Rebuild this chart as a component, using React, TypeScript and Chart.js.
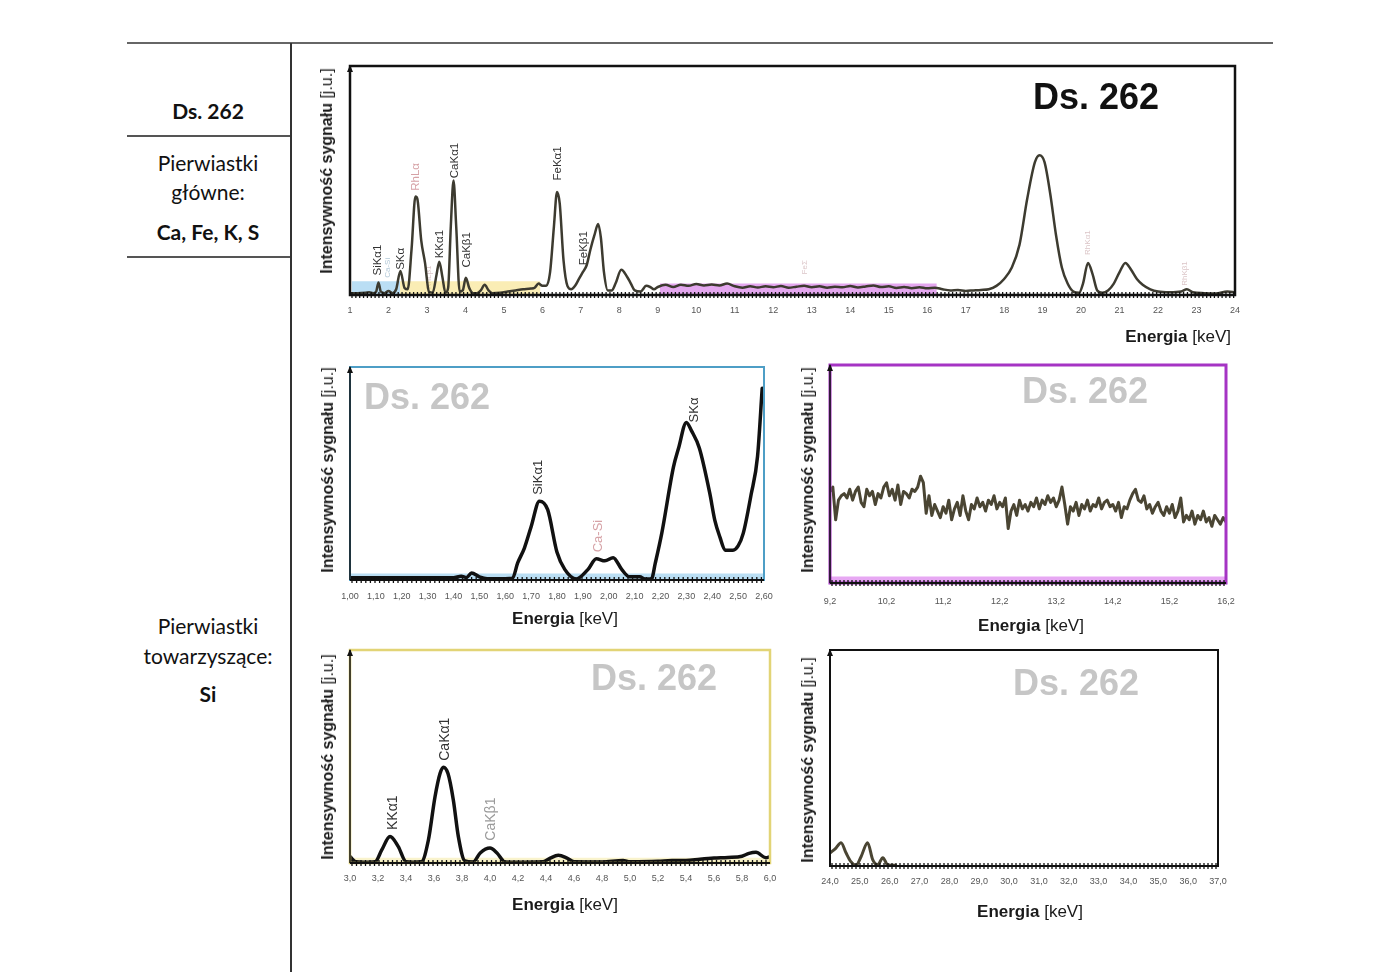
import React, { useEffect, useRef } from "react";
import { Chart, registerables } from "chart.js";

Chart.register(...registerables);

// ---------------- DATA ----------------
// Full spectrum (energy keV, intensity in % of plot height)
const TOP_POINTS: number[][] = [
  [1.0, 0.8], [1.2, 0.8], [1.4, 1.0], [1.5, 1.2], [1.6, 0.8], [1.68, 1.5], [1.74, 5.5], [1.8, 1.5],
  [1.9, 0.8], [2.0, 1.8], [2.1, 0.8], [2.2, 2.5], [2.31, 10.5], [2.42, 3], [2.5, 2.5], [2.6, 20],
  [2.7, 43], [2.75, 42], [2.85, 24], [2.95, 14], [3.05, 1.5], [3.15, 1], [3.25, 9], [3.32, 14.5],
  [3.4, 8], [3.48, 1], [3.55, 3], [3.62, 30], [3.69, 50], [3.76, 30], [3.85, 1.5], [3.93, 2],
  [4.01, 7.5], [4.1, 3], [4.2, 0.8], [4.3, 0.8], [4.4, 2], [4.5, 4.5], [4.6, 2], [4.7, 0.8],
  [4.9, 1], [5.1, 1.5], [5.3, 2], [5.5, 2.5], [5.7, 2.8], [5.8, 3.2], [5.9, 5], [6.0, 4],
  [6.1, 4], [6.2, 10], [6.3, 30], [6.38, 45], [6.45, 40], [6.55, 15], [6.65, 4], [6.75, 2.5],
  [6.85, 4], [6.95, 7], [7.05, 10], [7.15, 13], [7.25, 20], [7.35, 26], [7.45, 31], [7.52, 25],
  [7.6, 10], [7.7, 2], [7.8, 2], [7.9, 5], [8.05, 11], [8.2, 8], [8.3, 5], [8.4, 2],
  [8.55, 1.5], [8.7, 4], [8.8, 3.5], [8.9, 2.5], [9.0, 3.5],
  [9.2, 4.5], [9.4, 3.5], [9.6, 4.5], [9.8, 4], [10.0, 4.8], [10.2, 4.2], [10.4, 4.6], [10.6, 4.2],
  [10.8, 5], [11.0, 3.8], [11.2, 3.2], [11.4, 3.8], [11.6, 3.3], [11.8, 3.8], [12.0, 3.4], [12.2, 3.9],
  [12.4, 3.2], [12.6, 3.6], [12.8, 4], [13.0, 3.4], [13.2, 3.8], [13.4, 3.2], [13.6, 3.6], [13.8, 3.4],
  [14.0, 3.9], [14.2, 3.3], [14.4, 3.7], [14.6, 4.2], [14.8, 3.5], [15.0, 3.8], [15.2, 3.1], [15.4, 3.5],
  [15.6, 3], [15.8, 3.4], [16.0, 2.9], [16.2, 3.2],
  [16.4, 2.5], [16.6, 2], [16.8, 2.2], [17.0, 1.8], [17.2, 2], [17.4, 2.2], [17.6, 2.5], [17.8, 4],
  [18.0, 7], [18.2, 12], [18.4, 22], [18.6, 42], [18.8, 58], [18.92, 61], [19.05, 58], [19.2, 44],
  [19.35, 26], [19.5, 12], [19.65, 5], [19.8, 1.5], [19.95, 1], [20.05, 5], [20.18, 14], [20.3, 9],
  [20.42, 2], [20.55, 1], [20.7, 2], [20.85, 5], [21.0, 10], [21.15, 14], [21.3, 11], [21.45, 7],
  [21.6, 4.5], [21.8, 2.5], [22.0, 1.5], [22.3, 1.2], [22.6, 1.5], [22.75, 2.5], [22.9, 1.2], [23.2, 0.8],
  [23.5, 0.7], [23.8, 1.5], [24.0, 1.2],
];
const TOP_TICKS = [1, 2, 3, 4, 5, 6, 7, 8, 9, 10, 11, 12, 13, 14, 15, 16, 17, 18, 19, 20, 21, 22, 23, 24];
// [from keV, to keV, height]
const TOP_BANDS = [[1.05, 2.3, 6], [2.3, 5.95, 6], [9.05, 16.25, 5]];
// [label, keV, height of label foot, kind]
const TOP_PEAKS: [string, number, number, string][] = [
  ["SiKα1", 1.73, 8.5, "el"],
  ["Ca-Si", 1.99, 7.5, "trace"],
  ["SKα", 2.32, 11, "el"],
  ["RhLα", 2.71, 45.5, "rh"],
  ["RhLβ1", 3.05, 2.5, "rhfaint"],
  ["KKα1", 3.34, 16, "el"],
  ["CaKα1", 3.73, 51, "el"],
  ["CaKβ1", 4.04, 12, "el"],
  ["FeKα1", 6.4, 50, "el"],
  ["FeKβ1", 7.08, 13, "el"],
  ["FeΣ", 12.82, 9, "rhfaint"],
  ["RhKα1", 20.17, 17.5, "rhfaint"],
  ["RhKβ1", 22.69, 4, "rhfaint"],
];

// Zoom 1.00 – 2.60 keV
const SI_POINTS: number[][] = [
  [1.0, 1], [1.2, 1], [1.4, 1], [1.43, 1.8], [1.45, 1.2], [1.47, 3.3], [1.5, 1.5], [1.53, 0.6],
  [1.6, 0.6], [1.628, 0.8], [1.648, 8], [1.674, 15], [1.7, 25], [1.732, 37], [1.764, 33], [1.8, 13],
  [1.83, 5], [1.875, 0.5], [1.92, 5], [1.952, 10], [1.985, 9], [2.017, 10.5], [2.05, 5], [2.08, 1.5],
  [2.12, 1.5], [2.14, 0.5], [2.165, 0.5], [2.18, 8], [2.205, 22], [2.25, 53], [2.27, 62], [2.3, 74],
  [2.32, 70], [2.35, 62], [2.39, 41], [2.41, 28], [2.43, 20], [2.45, 14], [2.48, 14], [2.5, 16],
  [2.52, 22], [2.55, 40], [2.575, 58], [2.593, 90],
];
const SI_TICKS = [1.0, 1.1, 1.2, 1.3, 1.4, 1.5, 1.6, 1.7, 1.8, 1.9, 2.0, 2.1, 2.2, 2.3, 2.4, 2.5, 2.6];
const SI_BANDS = [[1.0, 2.6, 3]];
const SI_PEAKS: [string, number, number, string][] = [
  ["SiKα1", 1.73, 40, "el"],
  ["Ca-Si", 1.96, 13, "rh"],
  ["SKα", 2.33, 74, "el"],
];

// Zoom 9.2 – 16.2 keV, sampled every 0.05 keV
const MID_START = 9.2;
const MID_STEP = 0.05;
const MID_SIGNAL = [
  42, 44, 29, 38, 40, 41, 39, 43, 38, 42,
  44, 37, 35, 43, 40, 42, 36, 41, 39, 44,
  46, 40, 43, 38, 45, 36, 42, 41, 39, 43,
  42, 44, 49, 46, 32, 40, 31, 36, 33, 30,
  35, 32, 38, 29, 34, 37, 31, 40, 33, 29,
  36, 34, 39, 35, 37, 33, 38, 36, 40, 34,
  37, 35, 39, 25, 33, 36, 31, 38, 34, 36,
  33, 37, 35, 39, 34, 38, 36, 40, 37, 39,
  35, 38, 44, 36, 27, 35, 33, 37, 31, 36,
  34, 38, 33, 36, 35, 39, 34, 37, 38, 35,
  36, 33, 37, 30, 35, 34, 38, 41, 43, 38,
  37, 40, 34, 36, 32, 35, 37, 33, 31, 35,
  32, 36, 30, 33, 39, 28, 31, 29, 33, 27,
  31, 29, 33, 28, 30, 26, 31, 29, 27, 30,
  28,
];
const MID_TICKS = [9.2, 10.2, 11.2, 12.2, 13.2, 14.2, 15.2, 16.2];
const MID_BANDS = [[9.2, 16.2, 3]];

// Zoom 3.0 – 6.0 keV
const CA_POINTS: number[][] = [
  [3.0, 3], [3.04, 0.6], [3.1, 0.4], [3.18, 0.6], [3.226, 6], [3.286, 12.4], [3.345, 7.7], [3.4, 0.6],
  [3.45, 0.4], [3.51, 0.6], [3.56, 10.8], [3.607, 31], [3.643, 42], [3.667, 45], [3.7, 42], [3.738, 29.6],
  [3.774, 12.4], [3.82, 1], [3.88, 0.5], [3.93, 4.7], [4.0, 7], [4.05, 4.7], [4.107, 0.5], [4.2, 0.4],
  [4.38, 0.6], [4.43, 2.3], [4.488, 3.6], [4.55, 2.3], [4.6, 0.6], [4.8, 0.5], [4.95, 1.2], [5.0, 0.6],
  [5.2, 0.8], [5.3, 1.2], [5.4, 1.2], [5.5, 1.8], [5.6, 2.3], [5.7, 2.6], [5.8, 3.2], [5.85, 4.5],
  [5.9, 5], [5.97, 2.5], [6.0, 3],
];
const CA_TICKS = [3.0, 3.2, 3.4, 3.6, 3.8, 4.0, 4.2, 4.4, 4.6, 4.8, 5.0, 5.2, 5.4, 5.6, 5.8, 6.0];
const CA_BANDS = [[3.0, 6.0, 2.5]];
const CA_PEAKS: [string, number, number, string][] = [
  ["KKα1", 3.31, 15.5, "el"],
  ["CaKα1", 3.68, 48, "el"],
  ["CaKβ1", 4.01, 10.5, "grey"],
];

// Zoom 24 – 37 keV
const HI_POINTS: number[][] = [
  [24.0, 6], [24.2, 8.3], [24.37, 10.8], [24.54, 6], [24.7, 2], [24.87, 0.3], [25.04, 4.3], [25.26, 10.8],
  [25.43, 3], [25.6, 0.6], [25.77, 3.8], [25.93, 0.6], [26.2, 0.3],
];
const HI_TICKS = [24, 25, 26, 27, 28, 29, 30, 31, 32, 33, 34, 35, 36, 37];

// ---------------- STYLE ----------------
const ARIAL = "'Liberation Sans', Arial, Helvetica, sans-serif";
const NARROW = "'Liberation Sans Narrow', 'Arial Narrow', 'Liberation Sans', Arial, sans-serif";
const LABEL_COLORS: Record<string, string> = {
  el: "#333333",
  rh: "#d6a2a6",
  rhfaint: "#dcc6c8",
  trace: "#b3c9d8",
  grey: "#9a9a9a",
};
const PAD = { l: 24, r: 24, t: 12 };
const XH = 32;

const decor = {
  id: "specDecor",
  beforeDatasetsDraw(chart: any, _a: any, opts: any) {
    const { ctx, scales } = chart;
    ctx.save();
    (opts.peaks || []).forEach((p: any) => {
      const x = scales.x.getPixelForValue(p[1]);
      const y = scales.y.getPixelForValue(p[2]);
      const small = p[3] === "rhfaint" || p[3] === "trace";
      ctx.save();
      ctx.translate(x, y);
      ctx.rotate(-Math.PI / 2);
      ctx.font = `${small ? Math.round(opts.labelSize * 0.7) : opts.labelSize}px ${ARIAL}`;
      ctx.fillStyle = LABEL_COLORS[p[3]];
      ctx.textAlign = "left";
      ctx.textBaseline = "middle";
      ctx.fillText(p[0], 0, 0);
      ctx.restore();
    });
    ctx.restore();
  },
  afterDatasetsDraw(chart: any, _a: any, opts: any) {
    const { ctx, chartArea: a } = chart;
    ctx.save();
    // frame
    ctx.strokeStyle = opts.frameColor;
    ctx.lineWidth = opts.frameWidth;
    ctx.strokeRect(a.left, a.top, a.right - a.left, a.bottom - a.top);
    // left axis line + arrow
    ctx.strokeStyle = "#111";
    ctx.lineWidth = 1.5;
    ctx.beginPath();
    ctx.moveTo(a.left, a.bottom);
    ctx.lineTo(a.left, a.top);
    ctx.stroke();
    ctx.fillStyle = "#111";
    ctx.beginPath();
    ctx.moveTo(a.left - 3, a.top + 6);
    ctx.lineTo(a.left, a.top - 1);
    ctx.lineTo(a.left + 3, a.top + 6);
    ctx.closePath();
    ctx.fill();
    // ruler baseline
    ctx.lineWidth = 2;
    ctx.beginPath();
    ctx.moveTo(a.left, a.bottom);
    ctx.lineTo(a.right, a.bottom);
    ctx.stroke();
    ctx.lineWidth = 1.3;
    for (let px = a.left + 2; px < a.right; px += opts.rulerGap) {
      ctx.beginPath();
      ctx.moveTo(px, a.bottom - 3);
      ctx.lineTo(px, a.bottom + 3);
      ctx.stroke();
    }
    ctx.restore();
  },
};

type SpecProps = {
  L: number; R: number; T: number; B: number;
  xMin: number; xMax: number; ticks: number[]; decimals: number; tickPad: number;
  points: number[][]; lineColor: string; lineWidth: number; smooth: boolean;
  bands: number[][]; bandColors: string[];
  peaks: [string, number, number, string][]; labelSize: number;
  frameColor: string; frameWidth: number; rulerGap: number;
};

function Spectrum(p: SpecProps) {
  const ref = useRef<HTMLCanvasElement>(null);
  useEffect(() => {
    const datasets: any[] = [
      {
        data: p.points.map((d) => ({ x: d[0], y: d[1] })),
        borderColor: p.lineColor,
        borderWidth: p.lineWidth,
        pointRadius: 0,
        fill: false,
        cubicInterpolationMode: p.smooth ? "monotone" : "default",
        tension: 0,
        borderJoinStyle: "round",
        borderCapStyle: "round",
      },
    ];
    p.bands.forEach((b, i) => {
      datasets.push({
        data: [{ x: b[0], y: b[2] }, { x: b[1], y: b[2] }],
        borderWidth: 0,
        borderColor: "rgba(0,0,0,0)",
        backgroundColor: p.bandColors[i],
        fill: "origin",
        pointRadius: 0,
      });
    });
    const chart = new Chart(ref.current as HTMLCanvasElement, {
      type: "line",
      data: { datasets },
      options: {
        animation: false,
        responsive: false,
        maintainAspectRatio: false,
        layout: { padding: { left: PAD.l, right: PAD.r, top: PAD.t, bottom: 0 } },
        plugins: {
          legend: { display: false },
          tooltip: { enabled: false },
          specDecor: {
            peaks: p.peaks,
            labelSize: p.labelSize,
            frameColor: p.frameColor,
            frameWidth: p.frameWidth,
            rulerGap: p.rulerGap,
          },
        } as any,
        scales: {
          x: {
            type: "linear",
            min: p.xMin,
            max: p.xMax,
            afterFit: (s: any) => { s.height = XH; },
            afterBuildTicks: (s: any) => { s.ticks = p.ticks.map((v) => ({ value: v })); },
            grid: { display: false, drawTicks: false },
            border: { display: false },
            ticks: {
              padding: p.tickPad,
              autoSkip: false,
              maxRotation: 0,
              minRotation: 0,
              color: "#555",
              font: { family: ARIAL, size: 9 },
              callback: (v: any) => Number(v).toFixed(p.decimals).replace(".", ","),
            },
          },
          y: { min: 0, max: 100, display: false },
        },
      } as any,
      plugins: [decor],
    });
    return () => chart.destroy();
  }, []);
  const w = p.R - p.L + PAD.l + PAD.r;
  const h = p.B - p.T + PAD.t + XH;
  return (
    <canvas
      ref={ref}
      width={w}
      height={h}
      style={{ position: "absolute", left: p.L - PAD.l, top: p.T - PAD.t, width: w, height: h }}
    />
  );
}

function Txt(props: { x: number; y: number; children: any; style?: any; rotate?: boolean; align?: string }) {
  const tx = props.align === "right" ? "-100%" : "-50%";
  return (
    <div
      style={{
        position: "absolute",
        left: props.x,
        top: props.y,
        whiteSpace: "nowrap",
        lineHeight: 1,
        transform: `translate(${tx},-50%)${props.rotate ? " rotate(-90deg)" : ""}`,
        ...props.style,
      }}
    >
      {props.children}
    </div>
  );
}

const YTitle = ({ x, y }: { x: number; y: number }) => (
  <Txt x={x} y={y} rotate style={{ fontFamily: NARROW, fontSize: 16, color: "#1a1a1a" }}>
    <b>Intensywność sygnału</b> <span>[j.u.]</span>
  </Txt>
);
const XTitle = ({ x, y, align }: { x: number; y: number; align?: string }) => (
  <Txt x={x} y={y} align={align} style={{ fontFamily: NARROW, fontSize: 17, color: "#1a1a1a" }}>
    <b>Energia</b> <span>[keV]</span>
  </Txt>
);
const Mark = ({ x, y, c }: { x: number; y: number; c: string }) => (
  <Txt x={x} y={y} style={{ fontFamily: ARIAL, fontWeight: 700, fontSize: 36, color: c }}>
    Ds. 262
  </Txt>
);

const TABLE_FONT = "Lato, 'Open Sans', 'Noto Sans', sans-serif";

export default function App() {
  return (
    <div
      style={{
        position: "absolute", left: 0, top: 0, width: 1400, height: 972,
        overflow: "hidden", background: "#fff",
      }}
    >
      {/* table rules */}
      <div style={{ position: "absolute", left: 127, top: 42, width: 1146, height: 1.5, background: "#666" }} />
      <div style={{ position: "absolute", left: 290, top: 43, width: 1.5, height: 929, background: "#333" }} />
      <div style={{ position: "absolute", left: 127, top: 135, width: 163, height: 1.5, background: "#555" }} />
      <div style={{ position: "absolute", left: 127, top: 256, width: 163, height: 1.5, background: "#555" }} />

      <Txt x={208} y={110} style={{ fontFamily: TABLE_FONT, fontSize: 21, fontWeight: 700, color: "#111" }}>Ds. 262</Txt>
      <Txt x={208} y={162} style={{ fontFamily: TABLE_FONT, fontSize: 21, color: "#111" }}>Pierwiastki</Txt>
      <Txt x={208} y={191} style={{ fontFamily: TABLE_FONT, fontSize: 21, color: "#111" }}>główne:</Txt>
      <Txt x={208} y={231} style={{ fontFamily: TABLE_FONT, fontSize: 21, fontWeight: 700, color: "#111" }}>Ca, Fe, K, S</Txt>
      <Txt x={208} y={625} style={{ fontFamily: TABLE_FONT, fontSize: 21, color: "#111" }}>Pierwiastki</Txt>
      <Txt x={208} y={655} style={{ fontFamily: TABLE_FONT, fontSize: 21, color: "#111" }}>towarzyszące:</Txt>
      <Txt x={208} y={693} style={{ fontFamily: TABLE_FONT, fontSize: 21, fontWeight: 700, color: "#111" }}>Si</Txt>

      {/* full spectrum */}
      <Spectrum
        L={350} R={1235} T={66} B={295} xMin={1} xMax={24} ticks={TOP_TICKS} decimals={0} tickPad={10}
        points={TOP_POINTS} lineColor="#3d3b30" lineWidth={2.5} smooth
        bands={TOP_BANDS}
        bandColors={["rgba(130,195,235,0.55)", "rgba(245,222,120,0.55)", "rgba(205,95,225,0.55)"]}
        peaks={TOP_PEAKS} labelSize={11.5} frameColor="#111" frameWidth={2.5} rulerGap={3.85}
      />
      <Mark x={1096} y={97} c="#111" />
      <YTitle x={327} y={171} />
      <XTitle x={1231} y={336} align="right" />

      {/* 1.0 - 2.6 keV */}
      <Spectrum
        L={350} R={764} T={367} B={580} xMin={1} xMax={2.6} ticks={SI_TICKS} decimals={2} tickPad={11}
        points={SI_POINTS} lineColor="#111" lineWidth={3.5} smooth
        bands={SI_BANDS} bandColors={["rgba(140,200,235,0.6)"]}
        peaks={SI_PEAKS} labelSize={13} frameColor="#4e9ec6" frameWidth={2} rulerGap={4.6}
      />
      <Mark x={427} y={397} c="#c6c6c6" />
      <YTitle x={328} y={470} />
      <XTitle x={565} y={618} />

      {/* 9.2 - 16.2 keV */}
      <Spectrum
        L={830} R={1226} T={365} B={583} xMin={9.2} xMax={16.2} ticks={MID_TICKS} decimals={1} tickPad={13}
        points={MID_SIGNAL.map((v, i) => [MID_START + i * MID_STEP, v])} lineColor="#4a4533" lineWidth={3} smooth={false}
        bands={MID_BANDS} bandColors={["rgba(215,110,235,0.6)"]}
        peaks={[]} labelSize={13} frameColor="#a534c4" frameWidth={3} rulerGap={4}
      />
      <Mark x={1085} y={391} c="#c6c6c6" />
      <YTitle x={808} y={470} />
      <XTitle x={1031} y={625} />

      {/* 3.0 - 6.0 keV */}
      <Spectrum
        L={350} R={770} T={650} B={863} xMin={3} xMax={6} ticks={CA_TICKS} decimals={1} tickPad={10}
        points={CA_POINTS} lineColor="#111" lineWidth={3.5} smooth
        bands={CA_BANDS} bandColors={["rgba(245,235,170,0.6)"]}
        peaks={CA_PEAKS} labelSize={14} frameColor="#e2d476" frameWidth={2.5} rulerGap={4.5}
      />
      <Mark x={654} y={678} c="#c6c6c6" />
      <YTitle x={328} y={757} />
      <XTitle x={565} y={904} />

      {/* 24 - 37 keV */}
      <Spectrum
        L={830} R={1218} T={650} B={866} xMin={24} xMax={37} ticks={HI_TICKS} decimals={1} tickPad={10}
        points={HI_POINTS} lineColor="#4a4533" lineWidth={3} smooth
        bands={[]} bandColors={[]}
        peaks={[]} labelSize={13} frameColor="#111" frameWidth={2} rulerGap={4}
      />
      <Mark x={1076} y={683} c="#c6c6c6" />
      <YTitle x={808} y={760} />
      <XTitle x={1030} y={911} />
    </div>
  );
}
